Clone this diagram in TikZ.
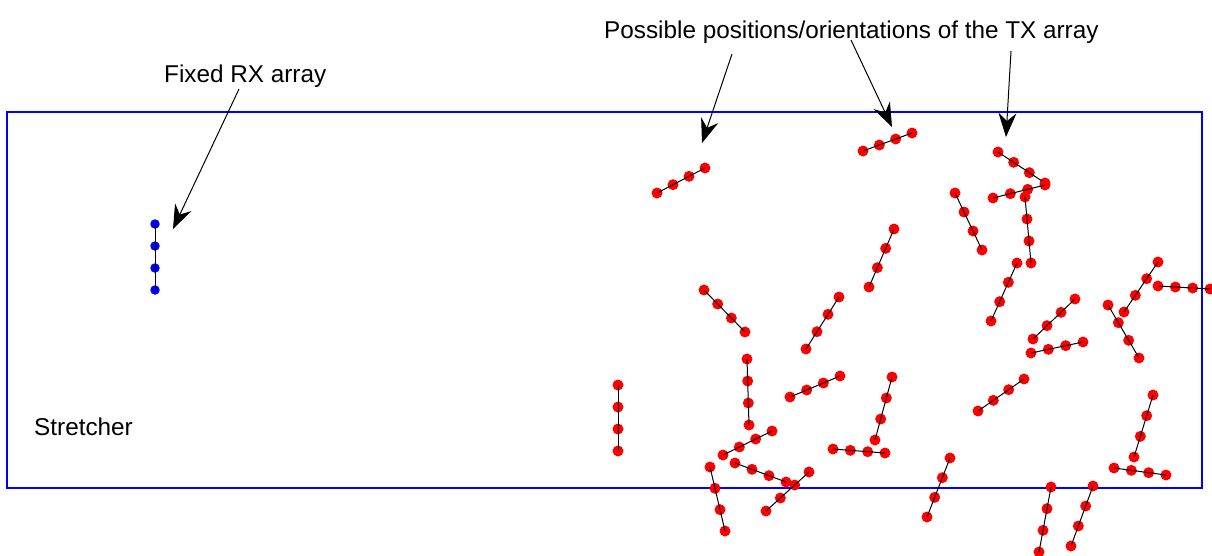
\documentclass[tikz,border=0pt]{standalone}
\usepackage{fontspec}
\setmainfont{Liberation Sans}
\usetikzlibrary{calc,arrows.meta}
\tikzset{
  txdot/.style={circle,fill=red,draw=none,minimum size=11pt,inner sep=0pt},
  rxdot/.style={circle,fill=blue,draw=none,minimum size=9.5pt,inner sep=0pt},
  arrline/.style={draw=black,line width=1pt},
  stretcherbox/.style={draw=blue,line width=2.2pt},
  lbl/.style={font=\fontsize{24.3}{28}\selectfont,inner sep=0pt,anchor=base west},
  pointer/.style={draw=black,line width=1pt,-{Stealth[length=24pt,width=18pt,inset=8pt]}}
}
\newcommand\txarr[5]{%
  \coordinate (#1s) at (#2,#3);
  \coordinate (#1e) at (#4,#5);
  \foreach \k in {0,1,2,3} {\node[txdot] (#1d\k) at ($(#1s)!\k/3!(#1e)$) {};}
  \draw[arrline] (#1d0.center) -- (#1d3.center);
}
\begin{document}
\begin{tikzpicture}[x=1pt,y=-1pt]
\useasboundingbox (0,0) rectangle (1212,555);
% stretcher
\node[stretcherbox,minimum width=1195pt,minimum height=376pt,anchor=north west,inner sep=0pt] (stretch) at (6,111) {};
\node[lbl] (stretchlbl) at (34,435) {Stretcher};
% RX array
\foreach \k/\yy in {0/224,1/246,2/268,3/290} {\node[rxdot] (rx\k) at (155,\yy) {};}
\draw[arrline] (rx0.center) -- (rx3.center);
% TX arrays
\txarr{A}{657}{193}{705}{168}
\txarr{B}{863}{151}{912}{133}
\txarr{C}{869}{287}{894}{229}
\txarr{D}{704}{290}{745}{332}
\txarr{E}{806}{349}{839}{297}
\txarr{F}{998}{152}{1045}{183}
\txarr{G}{993}{198}{1045}{185}
\txarr{H}{1025}{197}{1031}{263}
\txarr{I}{955}{193}{982}{250}
\txarr{J}{1017}{263}{991}{321}
\txarr{K}{1158}{262}{1124}{312}
\txarr{L}{1158}{286}{1210}{289}
\txarr{M}{1075}{299}{1033}{339}
\txarr{N}{1108}{305}{1139}{358}
\txarr{O}{618}{385}{618}{451}
\txarr{P}{747}{359}{749}{425}
\txarr{Q}{790}{397}{840}{376}
\txarr{R}{892}{377}{875}{440}
\txarr{S}{833}{449}{885}{453}
\txarr{T}{723}{455}{772}{431}
\txarr{U}{735}{463}{786}{482}
\txarr{V}{710}{467}{725}{531}
\txarr{W}{809}{472}{766}{511}
\txarr{X}{1031}{353}{1083}{342}
\txarr{Y}{978}{411}{1024}{379}
\txarr{Z}{1153}{395}{1134}{457}
\txarr{AA}{1114}{468}{1166}{475}
\txarr{AB}{950}{458}{927}{517}
\txarr{AC}{1051}{487}{1039}{552}
\txarr{AD}{1093}{486}{1071}{546}
% labels
\node[lbl] (rxlbl) at (164,82) {Fixed RX array};
\node[lbl] (txlbl) at (604,38) {Possible positions/orientations of the TX array};
% pointers
\coordinate (rxfrom) at (239,89);
\coordinate (rxtip) at (173,229);
\coordinate (tx1from) at (732,54);
\coordinate (tx1tip) at (702,143);
\coordinate (tx2from) at (851,40);
\coordinate (tx2tip) at (892,127);
\coordinate (tx3from) at (1011,51);
\coordinate (tx3tip) at (1006,137);
\draw[pointer] (rxfrom) -- (rxtip);
\draw[pointer] (tx1from) -- (tx1tip);
\draw[pointer] (tx2from) -- (tx2tip);
\draw[pointer] (tx3from) -- (tx3tip);
\end{tikzpicture}
\end{document}
